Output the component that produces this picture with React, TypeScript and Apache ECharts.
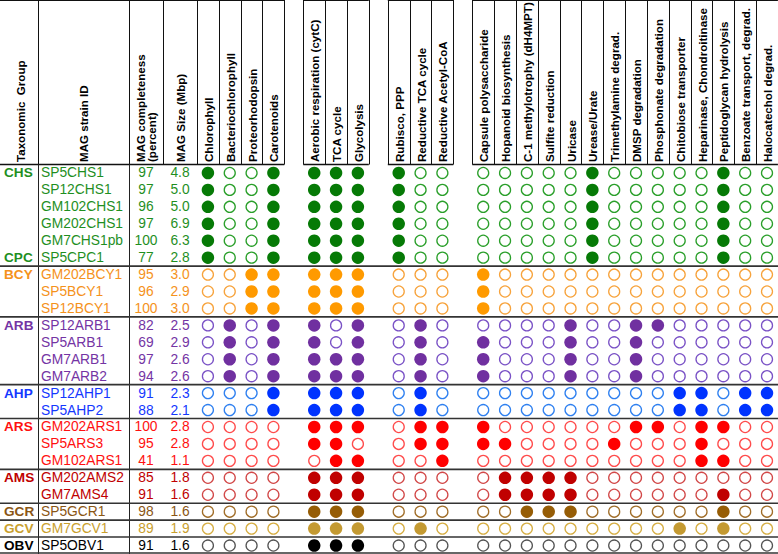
import React, { useEffect, useRef } from "react";
import * as echarts from "echarts";

// ---------------- DATA ----------------
const infoHeaders = ["Taxonomic  Group", "MAG strain ID", "MAG completeness\n(percent)", "MAG Size (Mbp)"];

const featureNames = [
  "Chlorophyll", "Bacteriochlorophyll", "Proteorhodopsin", "Carotenoids",
  "Aerobic respiration (cytC)", "TCA cycle", "Glycolysis",
  "Rubisco, PPP", "Reductive TCA cycle", "Reductive Acetyl-CoA",
  "Capsule polysaccharide", "Hopanoid biosynthesis", "C-1 methylotrophy (dH4MPT)", "Sulfite reduction",
  "Uricase", "Urease/Urate", "Trimethylamine degrad.", "DMSP degradation", "Phosphonate degradation",
  "Chitobiose transporter", "Heparinase, Chondroitinase", "Peptidoglycan hydrolysis",
  "Benzoate transport, degrad.", "Halocatechol degrad.",
];
const featureGroupSizes = [4, 3, 3, 14];

const strainIds = [
  "SP5CHS1", "SP12CHS1", "GM102CHS1", "GM202CHS1", "GM7CHS1pb", "SP5CPC1",
  "GM202BCY1", "SP5BCY1", "SP12BCY1",
  "SP12ARB1", "SP5ARB1", "GM7ARB1", "GM7ARB2",
  "SP12AHP1", "SP5AHP2",
  "GM202ARS1", "SP5ARS3", "GM102ARS1",
  "GM202AMS2", "GM7AMS4",
  "SP5GCR1", "GM7GCV1", "SP5OBV1",
];
const strainGroups = [
  "CHS", "CHS", "CHS", "CHS", "CHS", "CPC",
  "BCY", "BCY", "BCY",
  "ARB", "ARB", "ARB", "ARB",
  "AHP", "AHP",
  "ARS", "ARS", "ARS",
  "AMS", "AMS",
  "GCR", "GCV", "OBV",
];
const completeness = [97, 97, 96, 97, 100, 77, 95, 96, 100, 82, 69, 97, 94, 91, 88, 100, 95, 41, 85, 91, 98, 89, 91];
const genomeSizeMbp = [4.8, 5.0, 5.0, 6.9, 6.3, 2.8, 3.0, 2.9, 3.0, 2.5, 2.9, 2.6, 2.6, 2.3, 2.1, 2.8, 2.8, 1.1, 1.8, 1.6, 1.6, 1.9, 1.6];

// 1 = gene/pathway present (filled circle), 0 = absent (open circle); column order = featureNames
const presence = [
  "100111110000000100000100",
  "100111110000000100000100",
  "100111110000000100000100",
  "100111110000000100000100",
  "100111110000000100000100",
  "100111110000000100000100",
  "001111100010000000000000",
  "001111100010000000000000",
  "001111100010000000000000",
  "010110101000001001100000",
  "010110101010001001000000",
  "010111101010001001000000",
  "010111101010001001000000",
  "000111101000000000011011",
  "000111101000000000011011",
  "000011101110000001101100",
  "000011001111000010001000",
  "000001100100000000001100",
  "000011100001111000000000",
  "000011100001111000000100",
  "000011100000111000000100",
  "000011101000000000010100",
  "000011100000000000000000",
];

// ---------------- STYLE ----------------
const palette: Record<string, { text: string; fill: string; open: string; block: string }> = {
  CHS: { text: "#1f8f1f", fill: "#067a06", open: "#2a9f2a", block: "g" },
  CPC: { text: "#1f8f1f", fill: "#067a06", open: "#2a9f2a", block: "g" },
  BCY: { text: "#f5921b", fill: "#ff9a00", open: "#f7a33c", block: "o" },
  ARB: { text: "#7434a4", fill: "#7030a0", open: "#7a52c6", block: "p" },
  AHP: { text: "#1438ff", fill: "#0033ff", open: "#2f80f0", block: "b" },
  ARS: { text: "#ff1010", fill: "#ff0000", open: "#ff4c4c", block: "r" },
  AMS: { text: "#c00000", fill: "#c00000", open: "#d24848", block: "dr" },
  GCR: { text: "#8a5614", fill: "#965d06", open: "#a06d28", block: "br" },
  GCV: { text: "#c9a02e", fill: "#c49a32", open: "#d6ae44", block: "gd" },
  OBV: { text: "#000000", fill: "#000000", open: "#555555", block: "k" },
};

const W = 778;
const H = 554;
const HEADER_BOTTOM = 164.5;
const FONT = '"Liberation Sans", Arial, Helvetica, sans-serif';
const fixedBounds = [0, 38, 129, 163, 197];
const FEAT_W = 21.83;
const GAP_W = 19;

// feature column layout
const featCenters: number[] = [];
const featBounds: number[] = [];
const boxSpans: [number, number][] = [[0, 197]];
{
  let x = fixedBounds[4];
  featureGroupSizes.forEach((n, gi) => {
    const start = x;
    for (let k = 0; k < n; k++) {
      featBounds.push(x);
      featCenters.push(x + FEAT_W / 2);
      x += FEAT_W;
    }
    featBounds.push(x);
    boxSpans.push([start, x]);
    if (gi < featureGroupSizes.length - 1) x += GAP_W;
  });
}
const infoCenters = [20, 83.5, 146, 180];

export default function App() {
  const ref = useRef<HTMLDivElement>(null);
  useEffect(() => {
    if (!ref.current) return;
    const chart = echarts.init(ref.current, undefined, { renderer: "svg" });

    // circles
    const circleData: any[] = [];
    presence.forEach((row, i) => {
      const c = palette[strainGroups[i]];
      for (let j = 0; j < row.length; j++) {
        const on = row[j] === "1";
        circleData.push({
          value: [featCenters[j], i],
          symbolSize: on ? 12.5 : 11,
          itemStyle: on
            ? { color: c.fill, borderWidth: 0, opacity: 1 }
            : { color: "#ffffff", borderColor: c.open, borderWidth: 1.3, opacity: 1 },
        });
      }
    });

    // separators between colour blocks
    const seps: number[] = [];
    for (let i = 1; i < strainGroups.length; i++) {
      if (palette[strainGroups[i]].block !== palette[strainGroups[i - 1]].block) seps.push(i - 0.5);
    }
    seps.push(strainGroups.length - 0.5);

    // header graphics
    const graphics: any[] = [];
    const headerFont = `bold 11.6px ${FONT}`;
    infoHeaders.forEach((t, k) => {
      graphics.push({
        type: "text", x: infoCenters[k], y: 162, rotation: Math.PI / 2, silent: true,
        style: { text: t, fill: "#000", font: headerFont, textAlign: "left", align: "left", textVerticalAlign: "middle", verticalAlign: "middle", lineHeight: 11.5 },
      });
    });
    featureNames.forEach((t, j) => {
      graphics.push({
        type: "text", x: featCenters[j] + 0.5, y: 162, rotation: Math.PI / 2, silent: true,
        style: { text: t, fill: "#000", font: headerFont, textAlign: "left", align: "left", textVerticalAlign: "middle", verticalAlign: "middle" },
      });
    });
    const lineStyle = { stroke: "#111", lineWidth: 1 };
    const vbounds = [...fixedBounds.slice(1), ...featBounds];
    vbounds.forEach((x) => {
      if (x >= W - 0.5) return;
      const xx = Math.round(x) + 0.5;
      graphics.push({ type: "line", silent: true, shape: { x1: xx, y1: 0, x2: xx, y2: HEADER_BOTTOM }, style: lineStyle });
    });
    boxSpans.forEach(([a, b]) => {
      graphics.push({ type: "line", silent: true, shape: { x1: a, y1: 0.5, x2: b, y2: 0.5 }, style: lineStyle });
      graphics.push({ type: "line", silent: true, shape: { x1: a, y1: HEADER_BOTTOM, x2: b, y2: HEADER_BOTTOM }, style: { stroke: "#111", lineWidth: 1.5 } });
    });
    [38, 129].forEach((x) => {
      graphics.push({ type: "line", silent: true, shape: { x1: x + 0.5, y1: HEADER_BOTTOM, x2: x + 0.5, y2: H }, style: { stroke: "#222", lineWidth: 1 } });
    });

    const option: any = {
      animation: false,
      backgroundColor: "#ffffff",
      grid: { left: 0, right: 0, top: HEADER_BOTTOM, bottom: 0, containLabel: false },
      xAxis: { type: "value", min: 0, max: W, show: false },
      yAxis: { type: "value", min: -0.5, max: strainIds.length - 0.5, inverse: true, show: false },
      graphic: graphics,
      series: [
        {
          type: "scatter",
          symbol: "circle",
          silent: true,
          clip: false,
          itemStyle: { opacity: 1 },
          data: circleData,
          z: 3,
        },
        {
          type: "custom",
          silent: true,
          data: strainIds.map((_, i) => [0, i]),
          renderItem: (params: any, api: any) => {
            const i = params.dataIndex;
            const g = strainGroups[i];
            const c = palette[g];
            const y = api.coord([0, i])[1];
            const font = `13.8px ${FONT}`;
            const children: any[] = [];
            if (i === 0 || strainGroups[i - 1] !== g) {
              children.push({
                type: "text", x: api.coord([4, i])[0], y,
                style: { text: g, fill: c.text, font: `bold 13.6px ${FONT}`, textAlign: "left", align: "left", textVerticalAlign: "middle", verticalAlign: "middle" },
              });
            }
            children.push({
              type: "text", x: api.coord([41, i])[0], y,
              style: { text: strainIds[i], fill: c.text, font, textAlign: "left", align: "left", textVerticalAlign: "middle", verticalAlign: "middle" },
            });
            children.push({
              type: "text", x: api.coord([infoCenters[2], i])[0], y,
              style: { text: String(completeness[i]), fill: c.text, font, textAlign: "center", align: "center", textVerticalAlign: "middle", verticalAlign: "middle" },
            });
            children.push({
              type: "text", x: api.coord([infoCenters[3], i])[0], y,
              style: { text: genomeSizeMbp[i].toFixed(1), fill: c.text, font, textAlign: "center", align: "center", textVerticalAlign: "middle", verticalAlign: "middle" },
            });
            return { type: "group", children };
          },
          z: 4,
        },
        {
          type: "custom",
          silent: true,
          data: seps.map((b) => [0, b]),
          renderItem: (params: any, api: any) => {
            const b = seps[params.dataIndex];
            const p1 = api.coord([0, b]);
            const p2 = api.coord([W, b]);
            const y = Math.min(p1[1], H - 1);
            return {
              type: "line",
              shape: { x1: p1[0], y1: y, x2: p2[0], y2: y },
              style: { stroke: "#333", lineWidth: 1.6 },
            };
          },
          z: 5,
        },
      ],
    };
    chart.setOption(option);
    return () => chart.dispose();
  }, []);

  return (
    <div
      ref={ref}
      style={{ position: "fixed", left: 0, top: 0, width: W, height: H, background: "#fff" }}
    />
  );
}
